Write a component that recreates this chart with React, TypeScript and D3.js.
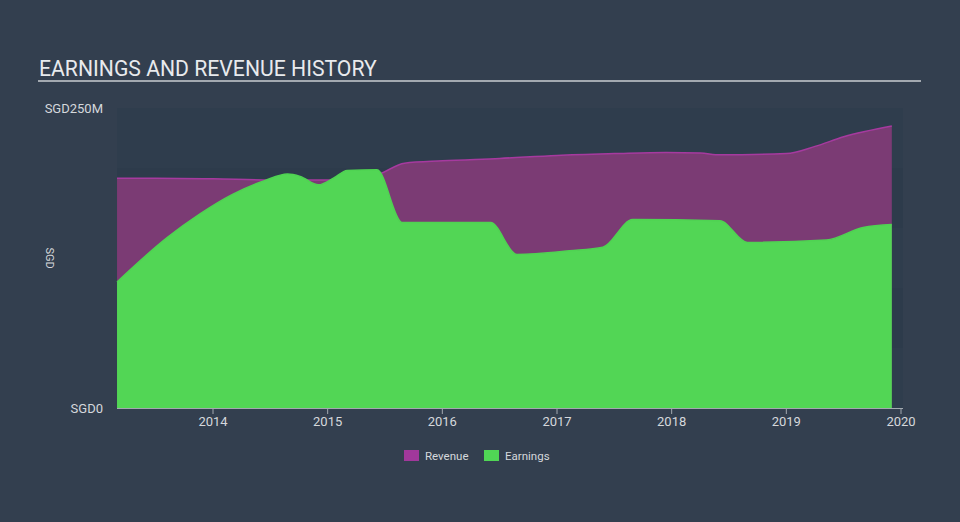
import React from "react";
import * as d3 from "d3";

const revYears = [2013.163, 2013.5, 2014.0, 2014.5, 2015.0, 2015.25, 2015.45, 2015.67, 2016.0, 2016.5, 2017.0, 2017.5, 2017.95, 2018.25, 2018.42, 2019.0, 2019.25, 2019.5, 2019.92];
const revValues = [191.5, 191.5, 191, 190, 190, 191, 195, 204, 206, 208, 210.5, 212, 213, 212.5, 211, 212, 218, 226, 235];

const earnYears = [2013.163, 2013.6, 2013.89, 2014.17, 2014.45, 2014.65, 2014.76, 2014.92, 2015.05, 2015.17, 2015.43, 2015.65, 2016.42, 2016.65, 2017.11, 2017.4, 2017.66, 2018.42, 2018.66, 2019.35, 2019.67, 2019.92];
const earnValues = [105, 142, 162, 178, 189.5, 195, 193, 186, 191.5, 198, 198.5, 154.5, 154.5, 128, 131, 134, 157, 156, 138, 140, 150.5, 153];

const xTicks = [2014, 2015, 2016, 2017, 2018, 2019, 2020];
const yTickValues = [0, 250];
const yTickLabels = ["SGD0", "SGD250M"];
const bandEdges = [0, 50, 100, 150, 200, 250];
const legendItems = ["Revenue", "Earnings"];

const W = 960;
const H = 522;
const FONT = "Roboto, 'Open Sans', sans-serif";

export default function App() {
  const x = d3.scaleLinear().domain([2014, 2020]).range([213, 901]);
  const y = d3.scaleLinear().domain([0, 250]).range([408, 108]);
  const plotLeft = 117;
  const plotRight = 903;

  const rev = revYears.map((t, i) => [t, revValues[i]] as [number, number]);
  const earn = earnYears.map((t, i) => [t, earnValues[i]] as [number, number]);

  const area = d3
    .area<[number, number]>()
    .x((d) => x(d[0]))
    .y0(y(0))
    .y1((d) => y(d[1]))
    .curve(d3.curveMonotoneX);
  const line = d3
    .line<[number, number]>()
    .x((d) => x(d[0]))
    .y((d) => y(d[1]))
    .curve(d3.curveMonotoneX);

  const legendColors = ["#a1389b", "#50d655"];
  const legendX = [404, 484];

  return (
    <svg
      width={W}
      height={H}
      style={{ position: "absolute", left: 0, top: 0, display: "block" }}
    >
      <rect x={0} y={0} width={W} height={H} fill="#333f4f" />
      <text x={39} y={76} fill="#e8eaed" fontFamily={FONT} fontSize={21.2}>
        EARNINGS AND REVENUE HISTORY
      </text>
      <rect x={38} y={80} width={883} height={2} fill="#a3a9b0" />

      {bandEdges.slice(0, -1).map((v, i) => (
        <rect
          key={i}
          x={plotLeft}
          width={plotRight - plotLeft}
          y={y(bandEdges[i + 1])}
          height={y(v) - y(bandEdges[i + 1])}
          fill={i % 2 === 0 ? "#2f3d4d" : "#2d3b4b"}
        />
      ))}

      <path d={area(rev) || ""} fill="#7b3b74" />
      <path d={line(rev) || ""} fill="none" stroke="#a63a9f" strokeWidth={1.5} />
      <path d={area(earn) || ""} fill="#52d655" />
      <path d={line(earn) || ""} fill="none" stroke="#4fd352" strokeWidth={1.5} />

      <line x1={plotLeft} x2={plotRight} y1={408.5} y2={408.5} stroke="#a3a9b0" strokeWidth={1} />
      {xTicks.map((t) => (
        <g key={t}>
          <line x1={x(t)} x2={x(t)} y1={408} y2={414} stroke="#a3a9b0" strokeWidth={1} />
          <text
            x={x(t)}
            y={426}
            textAnchor="middle"
            fill="#d5d8dc"
            fontFamily={FONT}
            fontSize={13}
          >
            {t}
          </text>
        </g>
      ))}

      {yTickValues.map((v, i) => (
        <text
          key={v}
          x={103}
          y={y(v) + 5}
          textAnchor="end"
          fill="#d5d8dc"
          fontFamily={FONT}
          fontSize={13}
        >
          {yTickLabels[i]}
        </text>
      ))}
      <text
        transform={`translate(46,258) rotate(90)`}
        textAnchor="middle"
        fill="#d5d8dc"
        fontFamily={FONT}
        fontSize={11}
      >
        SGD
      </text>

      {legendItems.map((name, i) => (
        <g key={name}>
          <rect x={legendX[i]} y={450} width={15} height={11} fill={legendColors[i]} />
          <text
            x={legendX[i] + 21}
            y={460}
            fill="#d5d8dc"
            fontFamily={FONT}
            fontSize={11.5}
          >
            {name}
          </text>
        </g>
      ))}
    </svg>
  );
}
